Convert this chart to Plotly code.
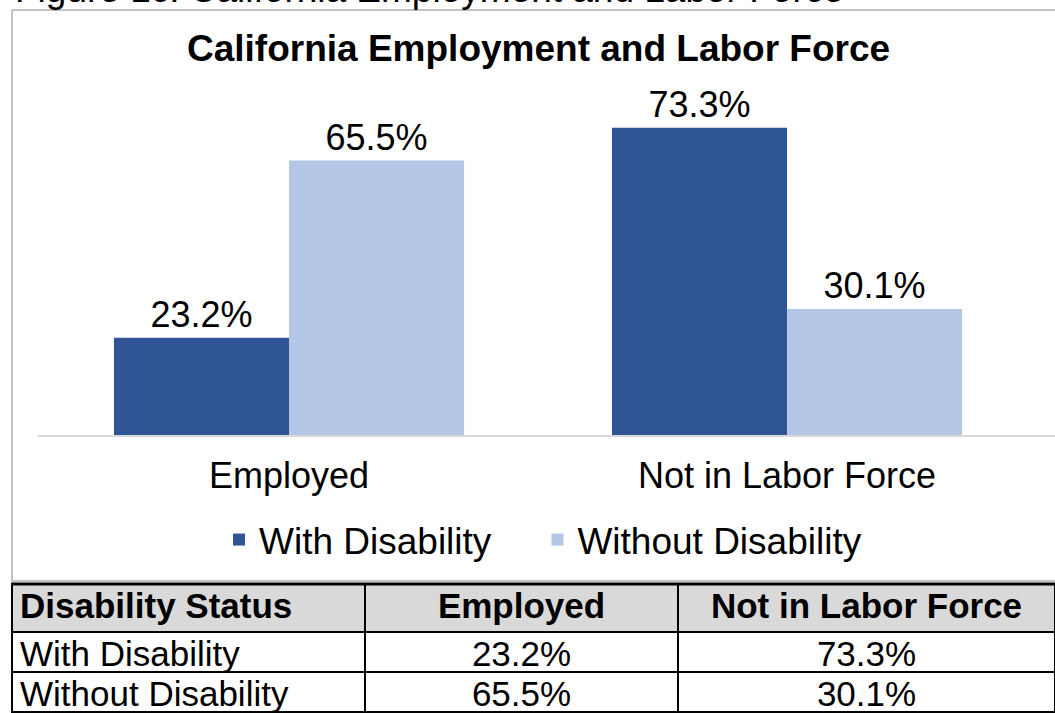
import plotly.graph_objects as go

# Data
categories = ["Employed", "Not in Labor Force"]
series_names = ["With Disability", "Without Disability"]
with_disability = [23.2, 73.3]
without_disability = [65.5, 30.1]
series_colors = ["#2F5597", "#B4C7E7"]
table_header = ["Disability Status", "Employed", "Not in Labor Force"]

W, H = 1055, 713
FONT = "Liberation Sans, Arial, sans-serif"
NBSP = "\u00a0"


def py(px):
    """Pixel offset from the top -> paper y."""
    return 1 - px / H


def px_(px):
    """Pixel offset from the left -> paper x."""
    return px / W


def pct(v):
    return f"{v:.1f}%"


def keep_on_one_line(s):
    # non-breaking spaces stop the table from re-wrapping a cell
    return s.replace(" ", NBSP)


fig = go.Figure()

series_values = [with_disability, without_disability]
for i, (name, vals, col) in enumerate(zip(series_names, series_values, series_colors)):
    # a little trailing padding separates the legend entries
    legend_name = name + (NBSP * 4 if i < len(series_names) - 1 else "")
    fig.add_trace(go.Bar(
        x=categories, y=vals, name=legend_name,
        marker=dict(color=col, line=dict(width=0)),
        text=[pct(v) for v in vals], textposition="outside",
        textfont=dict(size=36, color="#000000", family=FONT),
        cliponaxis=False, hoverinfo="skip",
        xaxis="x", yaxis="y",
    ))

# Data table below the chart
table_cells = [
    [keep_on_one_line(n) for n in series_names],
    [pct(s[0]) for s in series_values],
    [pct(s[1]) for s in series_values],
]
fig.add_trace(go.Table(
    domain=dict(x=[px_(12), 1.0], y=[0.0, py(584)]),
    columnwidth=[353, 313, 377],
    header=dict(
        values=[keep_on_one_line(h) for h in table_header],
        fill_color="#D9D9D9",
        line=dict(color="#000000", width=2),
        align=["left", "center", "center"],
        font=dict(size=35, color="#000000", family=FONT, weight="bold"),
        height=48,
    ),
    cells=dict(
        values=table_cells,
        fill_color="#FFFFFF",
        line=dict(color="#000000", width=2),
        align=["left", "center", "center"],
        font=dict(size=35, color="#000000", family=FONT),
        height=40,
    ),
))

scale = 4.19  # px per percentage point
y_top = 80

fig.update_layout(
    width=W, height=H,
    margin=dict(l=0, r=0, t=0, b=0),
    paper_bgcolor="#FFFFFF", plot_bgcolor="#FFFFFF",
    font=dict(family=FONT, color="#000000"),
    barmode="group", bargap=0.297, bargroupgap=0,
    showlegend=True,
    legend=dict(
        orientation="h", x=px_(219), xanchor="left",
        y=py(540), yanchor="middle",
        font=dict(size=37, color="#000000", family=FONT),
        bgcolor="rgba(0,0,0,0)",
    ),
    xaxis=dict(
        domain=[px_(38), 1.0], range=[-0.504, 1.538], type="category",
        showline=True, linecolor="#D9D9D9", linewidth=2,
        showgrid=False, zeroline=False, ticks="",
        ticklabelstandoff=8,
        tickfont=dict(size=36, color="#000000", family=FONT),
        fixedrange=True,
    ),
    yaxis=dict(
        domain=[py(435), py(435 - y_top * scale)], range=[0, y_top],
        visible=False, showgrid=False, zeroline=False, fixedrange=True,
    ),
    annotations=[
        dict(text="<b>California Employment and Labor Force</b>",
             x=px_(538), y=py(48), xref="paper", yref="paper",
             xanchor="center", yanchor="middle", showarrow=False,
             font=dict(size=37, color="#000000", family=FONT)),
        dict(text="Figure 1c: California Employment and Labor Force",
             x=px_(13), y=py(12), xref="paper", yref="paper",
             xanchor="left", yanchor="bottom", showarrow=False,
             font=dict(size=37, color="#000000", family=FONT)),
    ],
    shapes=[
        # chart frame
        dict(type="rect", xref="paper", yref="paper",
             x0=px_(12), x1=1.02, y0=py(581), y1=py(10),
             line=dict(color="#868686", width=1), fillcolor="rgba(0,0,0,0)",
             layer="below"),
        # heavy rule above the table
        dict(type="line", xref="paper", yref="paper",
             x0=px_(11), x1=1.0, y0=py(584), y1=py(584),
             line=dict(color="#000000", width=3)),
    ],
)

fig.write_html("out.html")
